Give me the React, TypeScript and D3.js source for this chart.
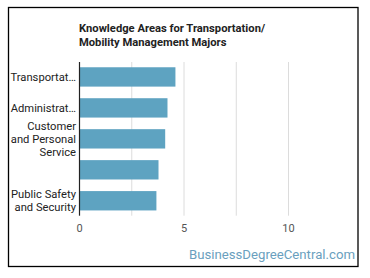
import * as d3 from "d3"

const categories = [
  ["Transportat…"],
  ["Administrat…"],
  ["Customer", "and Personal", "Service"],
  [""],
  ["Public Safety", "and Security"],
]
const values = [4.59, 4.21, 4.1, 3.78, 3.68]
const gridTicks = [2.5, 5, 7.5, 10]
const labelTicks = [0, 5, 10]
const titleLines = ["Knowledge Areas for Transportation/", "Mobility Management Majors"]

const width = 370
const height = 278
const plot = { left: 79.5, right: 330.3, top: 62, bottom: 215.7 }
const barColor = "#5ea3c1"
const font = "Roboto, 'Noto Sans', sans-serif"

export default function App() {
  const x = d3.scaleLinear().domain([0, 12]).range([plot.left, plot.right])
  const y = d3
    .scaleBand<number>()
    .domain(d3.range(values.length))
    .range([plot.top, plot.bottom])
    .paddingInner(0.375)
    .paddingOuter(0.17)

  return (
    <svg
      width={width}
      height={height}
      style={{ position: "absolute", left: 0, top: 0, fontFamily: font }}
    >
      <rect x={0} y={0} width={width} height={height} fill="#fff" />
      <rect x={8.5} y={7.5} width={349.5} height={259} fill="#fff" stroke="#000" strokeWidth={1.3} />

      {titleLines.map((line, i) => (
        <text key={line} x={79} y={32 + i * 14} fontSize={11.2} fontWeight={700} fill="#222">
          {line}
        </text>
      ))}

      {gridTicks.map((t) => (
        <line
          key={t}
          x1={x(t)}
          x2={x(t)}
          y1={plot.top}
          y2={plot.bottom}
          stroke="#dcdcdc"
          strokeWidth={1}
        />
      ))}

      {values.map((v, i) => (
        <rect
          key={i}
          x={x(0)}
          y={y(i)}
          width={x(v) - x(0)}
          height={y.bandwidth()}
          fill={barColor}
        />
      ))}

      <line x1={x(0)} x2={x(0)} y1={plot.top} y2={plot.bottom} stroke="#222" strokeWidth={1.2} />

      {categories.map((lines, i) => {
        const cy = (y(i) ?? 0) + y.bandwidth() / 2
        const lh = 13
        const start = cy - ((lines.length - 1) * lh) / 2 + 4
        return (
          <text key={i} x={76} textAnchor="end" fontSize={11.2} fill="#222">
            {lines.map((l, j) => (
              <tspan key={j} x={76} y={start + j * lh}>
                {l}
              </tspan>
            ))}
          </text>
        )
      })}

      {labelTicks.map((t) => (
        <text key={t} x={x(t)} y={232} textAnchor="middle" fontSize={11} fill="#555">
          {t}
        </text>
      ))}

      <text x={355} y={259} textAnchor="end" fontSize={13.2} fill="#6a9fbe">
        BusinessDegreeCentral.com
      </text>
    </svg>
  )
}
